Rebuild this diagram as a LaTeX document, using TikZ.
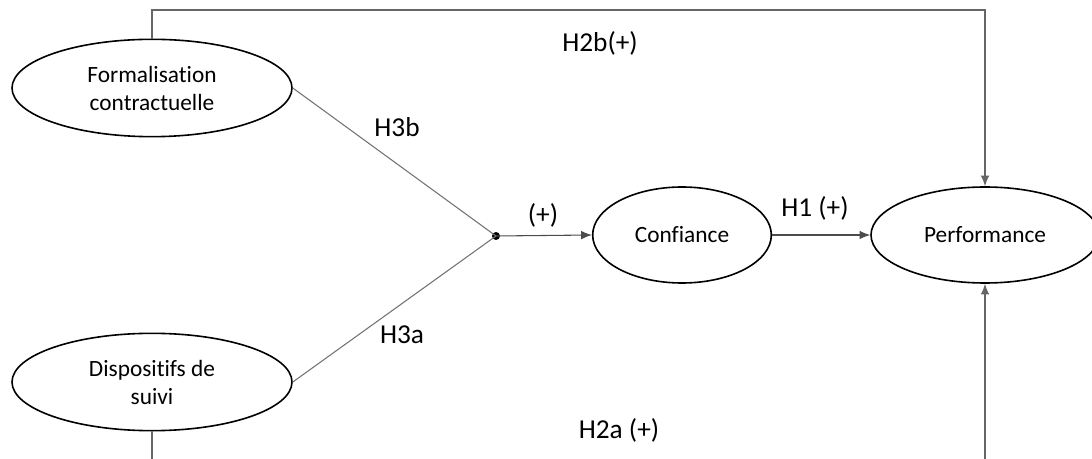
\documentclass[tikz,border=0pt]{standalone}
\usepackage{fontspec}
\setmainfont[Ligatures=NoCommon]{Carlito}
\usetikzlibrary{shapes.geometric,arrows.meta}
\begin{document}
\begin{tikzpicture}[x=0.75pt,y=-0.75pt,
  construct/.style={draw=black,line width=1.2pt,ellipse,inner sep=0pt,align=center,
     font=\fontsize{17.5pt}{21pt}\selectfont},
  thinline/.style={draw=black!55,line width=0.8pt},
  arr/.style={draw=black!70,line width=0.8pt,-{Latex[length=8pt,width=6.5pt]}},
  lab/.style={font=\fontsize{20.5pt}{24pt}\selectfont,inner sep=0pt}]
\useasboundingbox (0,0) rectangle (1092,459);
\clip (0,0) rectangle (1092,459);
\node[construct,minimum width=210pt,minimum height=73pt] (F) at (152,88) {Formalisation\\contractuelle};
\node[construct,minimum width=210pt,minimum height=73pt] (D) at (152,382) {Dispositifs de\\suivi};
\node[construct,minimum width=134pt,minimum height=72pt] (C) at (682,235) {Confiance};
\node[construct,minimum width=171pt,minimum height=72pt] (P) at (985,235) {Performance};
\node[circle,fill=black,inner sep=0pt,minimum size=6pt] (J) at (496,236) {};
\coordinate (TL) at (152,10);
\coordinate (TR) at (985,10);
\coordinate (BL) at (152,480);
\coordinate (BR) at (985,480);
\draw[thinline] (F.east) -- (J.center);
\draw[thinline] (D.east) -- (J.center);
\draw[arr] (J.center) -- (C.west);
\draw[arr] (C.east) -- (P.west);
\draw[arr,draw=black!60] (F.north) -- (TL) -- (TR) -- (P.north);
\draw[arr,draw=black!60] (D.south) -- (BL) -- (BR) -- (P.south);
\node[lab] (l2b) at (600,43) {H2b(+)};
\node[lab] (l3b) at (397,127) {H3b};
\node[lab] (l3a) at (402,335) {H3a};
\node[lab] (lp) at (543,215) {(+)};
\node[lab] (l1) at (815,208) {H1 (+)};
\node[lab] (l2a) at (619,430) {H2a (+)};
\end{tikzpicture}
\end{document}
